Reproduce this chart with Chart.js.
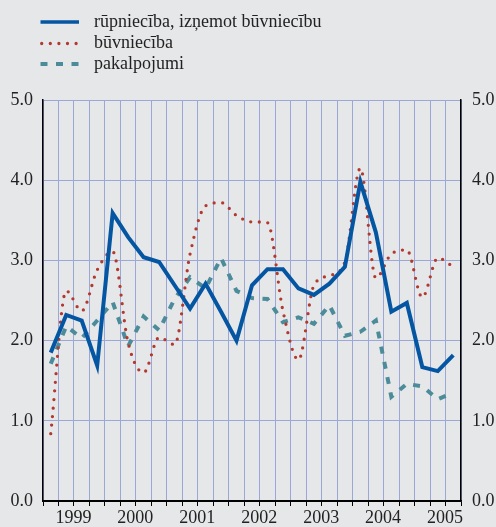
<!DOCTYPE html>
<html lang="lv">
<head>
    <meta charset="UTF-8">
    <title>Rūpniecība, būvniecība, pakalpojumi</title>
    <script src="https://cdn.jsdelivr.net/npm/chart.js@4.4.1/dist/chart.umd.min.js"></script>
    <style>
        html, body { margin: 0; padding: 0; background: #e6e7e9; }
        canvas { display: block; }
    </style>
</head>
<body>
    <canvas id="chart" width="496" height="527"></canvas>
    <script>
        // ceturkšņi 1999 Q1 - 2005 Q3
        const years = ['1999', '2000', '2001', '2002', '2003', '2004', '2005'];
        const quarters = ['Q1', 'Q2', 'Q3', 'Q4'];
        const seriesNames = ['rūpniecība, izņemot būvniecību', 'būvniecība', 'pakalpojumi'];

        const rupnieciba = [1.85, 2.32, 2.25, 1.69, 3.59, 3.29, 3.04, 2.98,
                            2.69, 2.40, 2.71, 2.36, 2.00, 2.69, 2.89, 2.89,
                            2.65, 2.57, 2.71, 2.92, 3.98, 3.35, 2.36, 2.47,
                            1.67, 1.62, 1.82];
        const buvnieciba = [0.84, 2.62, 2.37, 2.88, 3.11, 1.97, 1.60, 2.04,
                            1.95, 3.08, 3.68, 3.72, 3.56, 3.48, 3.47, 2.37,
                            1.76, 2.69, 2.81, 2.98, 4.15, 2.78, 3.08, 3.13,
                            2.54, 3.03, 2.92];
        const pakalpojumi = [1.71, 2.18, 2.03, 2.25, 2.48, 1.93, 2.30, 2.13,
                             2.52, 2.79, 2.65, 3.03, 2.62, 2.53, 2.52, 2.23,
                             2.29, 2.21, 2.44, 2.06, 2.11, 2.25, 1.30, 1.46,
                             1.43, 1.27, 1.35];

        const labels = [];
        years.forEach(y => quarters.forEach(q => labels.push(y + ' ' + q)));
        labels.length = rupnieciba.length;

        const FONT = 'Liberation Serif';
        const gridColor = '#9ba7d6';

        // leģenda kreisajā augšējā stūrī, katra sērija savā rindā
        const legendPlugin = {
            id: 'stackLegend',
            afterDraw(chart) {
                const ctx = chart.ctx;
                const rows = [22, 43.5, 64];
                chart.data.datasets.forEach((ds, i) => {
                    const y = rows[i];
                    ctx.save();
                    ctx.strokeStyle = ds.borderColor;
                    ctx.lineWidth = i === 0 ? 3.5 : ds.borderWidth;
                    ctx.lineCap = ds.borderCapStyle || 'butt';
                    ctx.setLineDash(ds.borderDash || []);
                    ctx.beginPath();
                    ctx.moveTo(i === 1 ? 41.7 : 40.5, y);
                    ctx.lineTo(i === 1 ? 77.5 : 79, y);
                    ctx.stroke();
                    ctx.restore();
                    ctx.save();
                    ctx.fillStyle = '#222';
                    ctx.font = '18px "' + FONT + '"';
                    ctx.textBaseline = 'middle';
                    ctx.fillText(ds.label, 94, y);
                    ctx.restore();
                });
            }
        };

        const ctx = document.getElementById('chart').getContext('2d');
        const myChart = new Chart(ctx, {
            type: 'line',
            data: {
                labels: labels,
                datasets: [{
                    label: seriesNames[0],
                    data: rupnieciba,
                    borderColor: '#0456a3',
                    borderWidth: 4,
                    borderJoinStyle: 'miter',
                    pointRadius: 0,
                    tension: 0
                },
                {
                    label: seriesNames[1],
                    data: buvnieciba,
                    borderColor: '#b3392f',
                    borderWidth: 3.3,
                    borderDash: [0, 8.6],
                    borderCapStyle: 'round',
                    pointRadius: 0,
                    cubicInterpolationMode: 'monotone'
                },
                {
                    label: seriesNames[2],
                    data: pakalpojumi,
                    borderColor: '#4b8b9a',
                    borderWidth: 4,
                    borderDash: [7, 8.5],
                    pointRadius: 0,
                    tension: 0
                }]
            },
            options: {
                responsive: false,
                animation: false,
                layout: { padding: { top: 100, left: 0, right: 0, bottom: 0 } },
                plugins: {
                    legend: { display: false },
                    tooltip: { enabled: false }
                },
                scales: {
                    x: {
                        offset: true,
                        grid: { offset: true, color: gridColor, tickColor: '#000', tickLength: 5 },
                        border: { color: '#000', width: 1.5 },
                        ticks: {
                            autoSkip: false,
                            maxRotation: 0,
                            padding: 1,
                            labelOffset: 7.2,
                            color: '#222',
                            font: { family: FONT, size: 18 },
                            callback: function (v, i) {
                                return i % 4 === 1 ? years[Math.floor(i / 4)] : '';
                            }
                        },
                        afterFit: s => { s.height = 26; }
                    },
                    y: {
                        min: 0, max: 5,
                        grid: {
                            drawTicks: false,
                            color: c => c.tick.value === 0 ? '#000' : gridColor
                        },
                        border: { color: '#000', width: 1.5 },
                        ticks: {
                            stepSize: 1, padding: 10, color: '#222',
                            font: { family: FONT, size: 18 },
                            callback: v => v.toFixed(1)
                        },
                        afterFit: s => { s.width = 43; }
                    },
                    y2: {
                        position: 'right',
                        min: 0, max: 5,
                        grid: { drawOnChartArea: false, drawTicks: false },
                        border: { color: '#000', width: 1.5 },
                        ticks: {
                            stepSize: 1, padding: 11, color: '#222',
                            font: { family: FONT, size: 18 },
                            callback: v => v.toFixed(1)
                        },
                        afterFit: s => { s.width = 35; }
                    }
                }
            },
            plugins: [legendPlugin]
        });
    </script>
</body>
</html>
